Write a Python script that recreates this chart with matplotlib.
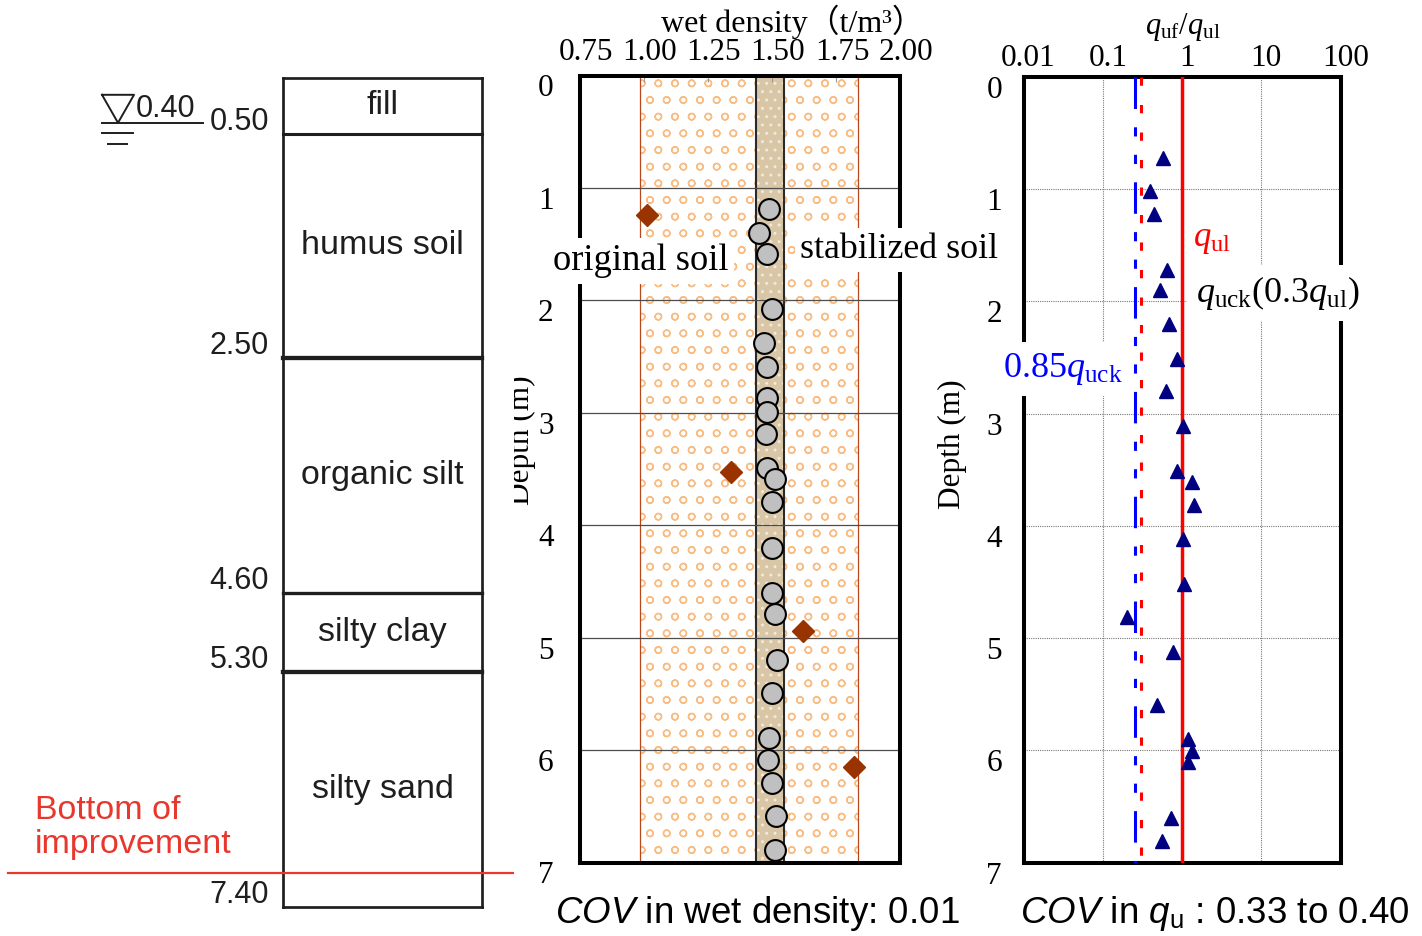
import matplotlib
matplotlib.use('Agg')
import matplotlib.pyplot as plt
from matplotlib.transforms import ScaledTranslation, offset_copy
from matplotlib.ticker import NullLocator

plt.rcParams.update({
    'mathtext.fontset': 'custom',
    'mathtext.rm': 'Liberation Serif',
    'mathtext.it': 'Liberation Serif:italic',
    'mathtext.sf': 'Liberation Sans',
    'mathtext.bf': 'Liberation Sans:italic',
    'hatch.linewidth': 1.0,
    'font.family': ['Liberation Serif', 'Noto Sans CJK JP'],
})
SANS = 'Liberation Sans'

# ---------------- data ----------------
layer_names = ['fill', 'humus soil', 'organic silt', 'silty clay', 'silty sand']
layer_top = [0.0, 0.5, 2.5, 4.6, 5.3]
layer_bottom = [0.5, 2.5, 4.6, 5.3, 7.4]
boundary_labels = ['0.50', '2.50', '4.60', '5.30', '7.40']
water_table = 0.40
water_label = '0.40'
improvement_bottom = 7.1

orig_density = [1.01, 1.34, 1.62, 1.82]
orig_depth = [1.24, 3.53, 4.94, 6.15]
stab_density = [1.49, 1.45, 1.48, 1.50, 1.47, 1.48, 1.48, 1.48, 1.475, 1.48, 1.51,
                1.50, 1.50, 1.50, 1.51, 1.52, 1.50, 1.49, 1.485, 1.50, 1.515, 1.51]
stab_depth = [1.19, 1.40, 1.59, 2.08, 2.38, 2.59, 2.87, 2.99, 3.19, 3.49, 3.59,
              3.79, 4.20, 4.60, 4.79, 5.20, 5.49, 5.89, 6.09, 6.29, 6.59, 6.89]
orig_range = [0.984, 1.837]
stab_range = [1.4375, 1.547]

ratio_depth = [0.72, 1.02, 1.22, 1.72, 1.90, 2.20, 2.51, 2.80, 3.11, 3.51, 3.61,
               3.81, 4.12, 4.52, 4.81, 5.12, 5.60, 5.90, 6.01, 6.10, 6.60, 6.81]
ratio = [0.58, 0.40, 0.44, 0.65, 0.53, 0.69, 0.87, 0.63, 1.02, 0.86, 1.34,
         1.42, 1.02, 1.06, 0.20, 0.78, 0.49, 1.19, 1.34, 1.19, 0.73, 0.56]
q_ul = 1.0
q_uck_ratio = 0.3
reduction = 0.85

depth_ticks = [0, 1, 2, 3, 4, 5, 6, 7]
depth_ticklabels = ['0', '1', '2', '3', '4', '5', '6', '7']
density_ticks = [0.75, 1.00, 1.25, 1.50, 1.75, 2.00]
density_ticklabels = ['0.75', '1.00', '1.25', '1.50', '1.75', '2.00']
ratio_ticks = [0.01, 0.1, 1, 10, 100]
ratio_ticklabels = ['0.01', '0.1', '1', '10', '100']

# ---------------- layout ----------------
W, H = 1422, 936
fig = plt.figure(figsize=(W / 100, H / 100), dpi=100)


def rect(l, t, r, b):
    return [l / W, 1 - b / H, (r - l) / W, (b - t) / H]


def fp(x, y):
    return (x / W, 1 - y / H)


def shift(texts, dx, dy):
    for t in texts:
        t.set_transform(t.get_transform() + ScaledTranslation(dx / 100, dy / 100, fig.dpi_scale_trans))


# ---------------- left: soil column ----------------
axL = fig.add_axes(rect(0, 0, 514, 936), zorder=5)
Y0, S = 78.0, 112.0
axL.set_xlim(0, 514)
axL.set_ylim((H - Y0) / S, -Y0 / S)
axL.set_xticks([])
axL.set_yticks([])
for s in axL.spines.values():
    s.set_visible(False)
axL.set_facecolor('white')

BX0, BX1 = 283, 482
dark = '#1e1e1e'
for bx in (BX0, BX1):
    axL.plot([bx, bx], [layer_top[0], layer_bottom[-1]], color=dark, lw=1.95,
             solid_capstyle='projecting')
bounds = [layer_top[0]] + layer_bottom
bw = [1.95, 2.2, 3.1, 2.4, 3.1, 1.95]
for d, w in zip(bounds, bw):
    axL.plot([BX0, BX1], [d, d], color=dark, lw=w, solid_capstyle='projecting')

for name, t, b in zip(layer_names, layer_top, layer_bottom):
    axL.text((BX0 + BX1) / 2, (t + b) / 2, name, ha='center', va='center',
             fontsize=24.5, family=SANS, color=dark)

lab_tr = offset_copy(axL.transData, fig=fig, x=0, y=4, units='dots')
for d, lab in zip(layer_bottom, boundary_labels):
    axL.text(269, d, lab, ha='right', va='baseline', fontsize=22, family=SANS,
             color=dark, transform=lab_tr)

# water table symbol
wt = water_table
axL.plot([102, 134, 118, 102], [wt - 28 / S, wt - 28 / S, wt, wt - 28 / S], color=dark, lw=1.4)
axL.plot([102, 203], [wt, wt], color=dark, lw=1.4)
axL.plot([102, 133], [wt + 10 / S, wt + 10 / S], color=dark, lw=1.4)
axL.plot([108, 127], [wt + 21 / S, wt + 21 / S], color=dark, lw=1.4)
wt_tr = offset_copy(axL.transData, fig=fig, x=0, y=6, units='dots')
axL.text(136, wt, water_label, ha='left', va='baseline', fontsize=22, family=SANS,
         color=dark, transform=wt_tr)

# bottom of improvement
red2 = '#E8382E'
axL.plot([8, 514], [improvement_bottom] * 2, color=red2, lw=1.6)
axL.text(35, improvement_bottom, 'Bottom of', ha='left', va='baseline', fontsize=24.5,
         family=SANS, color=red2,
         transform=offset_copy(axL.transData, fig=fig, x=0, y=54, units='dots'))
axL.text(35, improvement_bottom, 'improvement', ha='left', va='baseline', fontsize=24.5,
         family=SANS, color=red2,
         transform=offset_copy(axL.transData, fig=fig, x=0, y=20, units='dots'))

# ---------------- middle: wet density ----------------
ax1 = fig.add_axes(rect(580, 75.5, 900, 862.5))
ax1.set_xlim(density_ticks[0], density_ticks[-1])
ax1.set_ylim(depth_ticks[-1], depth_ticks[0])

ax1.axvspan(orig_range[0], orig_range[1], facecolor='white', edgecolor='#F9BC82',
            hatch='o', lw=0, zorder=0.6)
for x in orig_range:
    ax1.axvline(x, color='#B8481A', lw=0.9, zorder=0.7)
ax1.axvspan(stab_range[0], stab_range[1], facecolor='#D8C6A6', edgecolor='#F1E9DA',
            hatch='..', lw=0, zorder=0.8)
for x in stab_range:
    ax1.axvline(x, color='#2a2a2a', lw=1.5, zorder=0.9)

ax1.yaxis.grid(True, color='#4d4d4d', lw=0.9)
ax1.plot(orig_density, orig_depth, 'D', ms=11, color='#993300', zorder=4)
ax1.plot(stab_density, stab_depth, 'o', ms=15, mfc='#C0C0C0', mec='black', mew=1.5, zorder=5)

ax1.set_xticks(density_ticks, density_ticklabels)
ax1.xaxis.tick_top()
ax1.tick_params(axis='x', direction='in', length=4, width=0.8, color='#999999', pad=6,
                labelsize=22.5)
ax1.set_yticks(depth_ticks, depth_ticklabels)
ax1.tick_params(axis='y', length=0, pad=19, labelsize=22.5)
for s in ax1.spines.values():
    s.set_linewidth(2.9)
shift(ax1.get_xticklabels(), 6, 0)
shift(ax1.get_yticklabels(), 0, -10)

fig.text(*fp(792, 32), 'wet density（t/m³）', ha='center', va='baseline', fontsize=23)
fig.text(*fp(521, 440), 'Depth (m)', rotation=90, ha='center', va='center', fontsize=22.5,
         zorder=1)

box = dict(boxstyle='square,pad=0.15', fc='white', ec='none')
ax1.text(*fp(641, 261), 'original soil', transform=fig.transFigure, ha='center',
         va='center', fontsize=26.3, bbox=box, zorder=6)
ax1.text(*fp(899, 250), 'stabilized soil', transform=fig.transFigure, ha='center',
         va='center', fontsize=25.8, bbox=box, zorder=6)

# ---------------- right: strength ratio ----------------
ax2 = fig.add_axes(rect(1023.5, 77, 1340.5, 862.5))
ax2.set_xscale('log')
ax2.set_xlim(ratio_ticks[0], ratio_ticks[-1])
ax2.set_ylim(depth_ticks[-1], depth_ticks[0])
ax2.set_xticks(ratio_ticks, ratio_ticklabels)
ax2.xaxis.set_minor_locator(NullLocator())
ax2.xaxis.tick_top()
ax2.tick_params(axis='x', length=0, pad=3, labelsize=22.5)
ax2.set_yticks(depth_ticks, depth_ticklabels)
ax2.tick_params(axis='y', length=0, pad=15.5, labelsize=22.5)
ax2.grid(True, color='#7a7a7a', lw=0.8, ls=(0, (1, 1)))
for s in ax2.spines.values():
    s.set_linewidth(2.9)
shift(ax2.get_xticklabels(), 5, 0)
shift(ax2.get_yticklabels(), 0, -10)

q_uck = q_uck_ratio * q_ul
q_red = reduction * q_uck
span = [depth_ticks[0], depth_ticks[-1]]
ax2.axvline(q_ul, color='#FF0000', lw=2.5, zorder=3)
ax2.plot([q_uck, q_uck], span, color='#FF0000', lw=2.2, dashes=(2.7, 6.3), zorder=3)
ax2.plot([q_red, q_red], span, color='#0000FF', lw=2.2, dashes=(10.3, 6, 3, 6, 3, 6), zorder=3)
ax2.plot(ratio, ratio_depth, '^', ms=9.5, color='#000080', zorder=5)

box2 = dict(boxstyle='square,pad=0.25', fc='white', ec='none')
ax2.text(*fp(1193, 246), r'$q_{\rm ul}$', transform=fig.transFigure, ha='left',
         va='baseline', fontsize=25, color='#FF0000', zorder=6)
ax2.text(*fp(1196, 302), r'$q_{\rm uck}(0.3q_{\rm ul})$', transform=fig.transFigure,
         ha='left', va='baseline', fontsize=26, color='black', bbox=box2, zorder=6)
ax2.text(*fp(1003, 377), r'$0.85q_{\rm uck}$', transform=fig.transFigure, ha='left',
         va='baseline', fontsize=26, color='#0000FF', bbox=box2, zorder=6)

fig.text(*fp(1183, 34), r'$q_{\rm uf}/q_{\rm ul}$', ha='center', va='baseline', fontsize=22)
fig.text(*fp(952, 444), 'Depth (m)', rotation=90, ha='center', va='center', fontsize=22.5)

# ---------------- bottom captions ----------------
fig.text(*fp(757, 923), r'$\mathbf{COV}$ in wet density: 0.01', ha='center', va='baseline',
         fontsize=26.5, family=SANS)
fig.text(*fp(1215, 923), r'$\mathbf{COV}$ in $\mathbf{q}_{\mathsf{u}}$ : 0.33 to 0.40',
         ha='center', va='baseline', fontsize=26.5, family=SANS)

fig.savefig('out.png', dpi=100, facecolor='white')
